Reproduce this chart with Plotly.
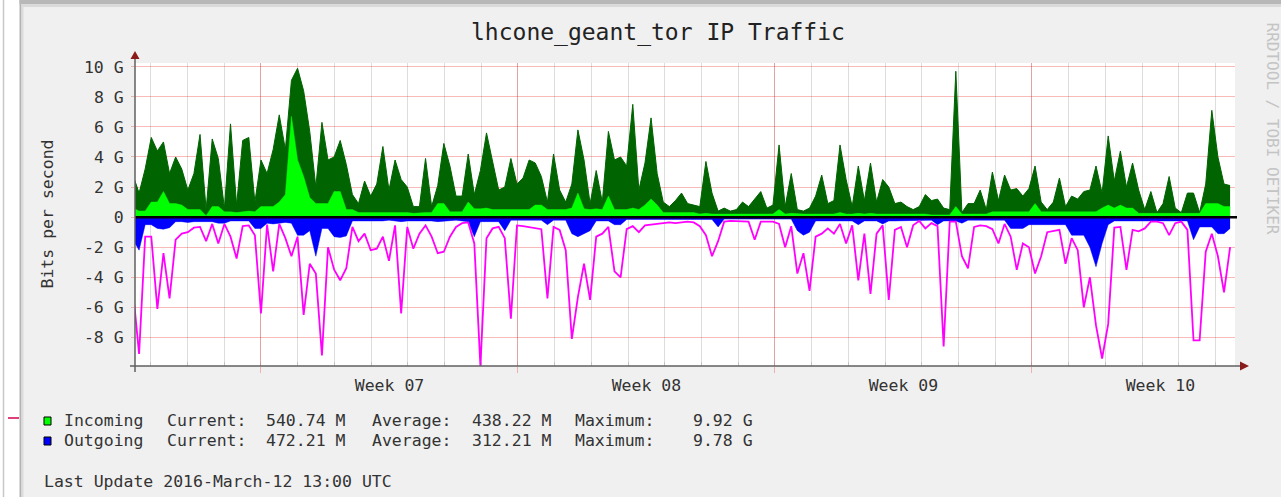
import numpy as np
import plotly.graph_objects as go

# ---------------- data (Gbit/s), ~4-hour samples ----------------
START_DAY = -3.487      # days relative to Mon 2016-02-15 00:00 UTC (start of Week 07)
STEP_DAY = 0.16603

incoming_max = [
    2.8, 1.6, 3.2, 5.3, 4.4, 5.0, 2.9, 4.0, 3.2, 1.8,
    2.9, 5.5, 0.5, 5.2, 3.9, 0.6, 6.2, 0.8, 5.1, 5.3,
    1.0, 3.8, 2.9, 4.5, 6.8, 4.5, 9.1, 9.9, 8.4, 5.7,
    2.0, 6.3, 3.8, 4.0, 5.1, 3.5, 1.5, 0.9, 2.4, 1.4,
    2.2, 4.7, 1.8, 3.8, 2.5, 2.0, 0.7, 0.7, 3.9, 0.7,
    2.1, 4.9, 3.4, 1.4, 1.4, 4.2, 1.5, 3.1, 5.6, 3.8,
    1.8, 2.0, 3.9, 2.2, 2.6, 3.8, 3.6, 2.7, 1.0, 4.2,
    1.8, 1.0, 2.2, 5.8, 3.8, 0.9, 3.1, 1.0, 5.7, 3.8,
    4.0, 3.4, 7.5, 1.8, 3.6, 6.6, 2.9, 1.0, 0.7, 1.1,
    1.6, 0.9, 0.8, 0.7, 3.7, 1.6, 0.4, 0.6, 0.4, 0.5,
    1.0, 0.7, 1.2, 1.7, 0.6, 0.8, 4.8, 0.7, 2.9, 0.5,
    0.4, 0.6, 1.4, 2.8, 0.9, 1.1, 4.8, 2.5, 0.7, 3.4,
    1.1, 3.6, 1.0, 2.5, 2.0, 0.9, 1.0, 0.7, 0.5, 0.7,
    1.5, 1.1, 1.2, 0.6, 0.5, 9.7, 0.3, 0.9, 0.9, 1.8,
    0.5, 3.0, 1.1, 2.8, 1.8, 1.9, 1.4, 1.9, 3.4, 1.0,
    0.5, 1.0, 2.6, 0.7, 1.4, 1.2, 1.7, 1.8, 3.4, 1.6,
    5.4, 2.4, 4.4, 2.0, 3.6, 1.8, 0.5, 1.7, 0.3, 0.9,
    2.7, 0.6, 0.3, 1.6, 1.6, 0.3, 2.2, 7.1, 4.0, 2.2, 2.1,
]

incoming_avg = [
    0.6, 0.4, 0.4, 1.0, 1.0, 1.7, 0.9, 0.9, 0.8, 0.5,
    0.5, 0.5, 0.1, 0.7, 0.7, 0.35, 0.35, 0.3, 0.35, 0.4,
    0.35, 0.7, 0.7, 0.7, 1.0, 1.5, 6.7, 3.8, 2.7, 1.3,
    0.9, 0.9, 0.9, 1.7, 1.7, 0.5, 0.5, 0.3, 0.3, 0.3,
    0.3, 0.35, 0.3, 0.3, 0.3, 0.3, 0.25, 0.3, 0.3, 0.3,
    0.9, 0.9, 0.35, 0.35, 0.35, 1.0, 0.55, 0.55, 0.6, 0.5,
    0.5, 0.5, 0.5, 0.5, 0.5, 0.5, 0.8, 0.8, 0.5, 0.5,
    0.5, 0.5, 0.6, 1.6, 0.55, 0.5, 0.55, 0.5, 1.4, 0.5,
    0.5, 0.5, 0.6, 0.5, 0.8, 1.2, 0.8, 0.3, 0.3, 0.3,
    0.3, 0.3, 0.3, 0.2, 0.25, 0.2, 0.2, 0.2, 0.2, 0.2,
    0.2, 0.2, 0.2, 0.25, 0.2, 0.2, 0.5, 0.2, 0.25, 0.2,
    0.2, 0.2, 0.2, 0.25, 0.2, 0.2, 0.3, 0.2, 0.2, 0.25,
    0.2, 0.25, 0.2, 0.2, 0.2, 0.2, 0.2, 0.2, 0.2, 0.2,
    0.2, 0.15, 0.15, 0.15, 0.15, 0.7, 0.2, 0.2, 0.2, 0.2,
    0.2, 0.35, 0.35, 0.35, 0.35, 0.35, 0.35, 0.35, 0.9, 0.35,
    0.35, 0.35, 0.35, 0.35, 0.35, 0.35, 0.35, 0.35, 0.35, 0.6,
    0.8, 0.6, 0.8, 0.6, 0.6, 0.25, 0.25, 0.25, 0.25, 0.25,
    0.25, 0.25, 0.25, 0.25, 0.25, 0.25, 0.9, 0.9, 0.9, 0.7, 0.7,
]

outgoing_avg = [
    -1.5, -2.2, -0.5, -0.5, -0.75, -0.8, -0.7, -0.3, -0.3, -0.35,
    -0.3, -0.3, -0.25, -0.3, -0.4, -0.4, -0.25, -0.25, -0.2, -0.25,
    -0.75, -0.75, -0.4, -0.45, -0.4, -0.35, -0.4, -1.2, -1.2, -0.9,
    -2.6, -0.75, -0.75, -1.3, -1.35, -1.25, -0.25, -0.25, -0.25, -0.3,
    -0.25, -0.25, -0.2, -0.25, -0.3, -0.25, -0.25, -0.2, -0.25, -0.25,
    -0.3, -0.25, -0.25, -0.2, -0.25, -0.3, -1.3, -0.3, -0.3, -0.3,
    -0.3, -0.9, -0.2, -0.2, -0.2, -0.2, -0.2, -0.2, -0.5, -0.2,
    -0.2, -0.2, -1.1, -1.3, -1.1, -0.9, -0.25, -0.25, -0.25, -0.5,
    -0.5, -0.15, -0.15, -0.15, -0.15, -0.15, -0.15, -0.15, -0.15, -0.15,
    -0.15, -0.15, -0.15, -0.15, -0.15, -0.15, -0.65, -0.13, -0.13, -0.13,
    -0.13, -0.13, -0.13, -0.13, -0.13, -0.13, -0.13, -0.13, -0.13, -0.9,
    -1.2, -1.0, -0.25, -0.25, -0.25, -0.25, -0.25, -0.25, -0.25, -0.5,
    -0.25, -0.25, -0.25, -0.45, -0.25, -0.25, -0.25, -0.25, -0.25, -0.25,
    -0.25, -0.2, -0.5, -0.25, -0.25, -0.25, -0.4, -0.2, -0.2, -0.2,
    -0.2, -0.2, -0.2, -0.2, -0.75, -0.75, -0.75, -0.5, -0.5, -0.5,
    -0.5, -0.5, -0.5, -0.5, -1.2, -1.2, -1.2, -2.0, -3.3, -1.75,
    -0.5, -0.25, -0.25, -0.25, -0.25, -0.25, -0.25, -0.25, -0.25, -0.25,
    -0.25, -0.25, -0.25, -0.25, -1.5, -0.65, -0.65, -0.65, -1.1, -1.1, -0.75,
]

outgoing_max = [
    -4.9, -9.1, -1.3, -1.3, -6.1, -2.4, -5.4, -1.5, -1.1, -1.0,
    -0.7, -0.65, -1.6, -0.45, -1.75, -0.45, -1.3, -2.75, -0.6, -0.55,
    -1.2, -6.4, -0.5, -3.6, -0.45, -1.4, -2.6, -1.3, -6.5, -3.1,
    -3.75, -9.2, -2.0, -3.5, -4.2, -3.4, -0.65, -1.6, -1.1, -2.2,
    -2.1, -1.3, -2.9, -0.55, -6.4, -0.65, -2.1, -1.1, -0.55, -1.3,
    -2.4, -2.3, -1.3, -0.65, -0.4, -0.35, -1.75, -9.9, -1.4, -0.75,
    -0.65, -1.4, -6.75, -0.55, -0.6, -0.65, -0.75, -0.8, -5.4, -0.65,
    -0.85, -2.2, -8.1, -5.3, -3.1, -5.5, -1.3, -1.1, -0.65, -3.6,
    -4.0, -0.8, -0.6, -1.0, -0.55, -0.5, -0.5, -0.4, -0.35, -0.4,
    -0.35, -0.3, -0.35, -0.6, -1.2, -2.6, -1.6, -0.3, -0.25, -0.25,
    -0.25, -0.3, -1.5, -0.3, -0.3, -0.3, -0.45, -2.0, -0.6, -3.75,
    -2.4, -4.9, -1.3, -1.1, -0.75, -1.1, -0.45, -1.75, -0.55, -4.2,
    -1.1, -5.1, -1.1, -0.55, -5.5, -0.85, -0.65, -2.0, -0.55, -0.25,
    -0.75, -0.4, -0.6, -8.6, -0.3, -0.3, -2.6, -3.4, -0.65, -0.55,
    -0.6, -0.8, -1.75, -0.45, -1.3, -3.5, -1.75, -2.0, -3.75, -2.6,
    -1.0, -0.9, -0.85, -3.1, -1.4, -2.2, -6.0, -4.0, -7.2, -9.4,
    -7.1, -0.7, -0.65, -3.5, -0.85, -0.95, -0.75, -0.3, -0.3, -0.4,
    -1.2, -0.4, -0.3, -0.85, -8.2, -8.2, -2.3, -1.1, -2.6, -5.0, -2.0,
]

week_centers = [3.5, 10.5, 17.5, 24.5]
week_labels = ["Week 07", "Week 08", "Week 09", "Week 10"]
y_ticks = [-8, -6, -4, -2, 0, 2, 4, 6, 8, 10]
y_tick_labels = ["-8 G", "-6 G", "-4 G", "-2 G", "0", "2 G", "4 G", "6 G", "8 G", "10 G"]

series_names = ["Incoming", "Outgoing"]
current_vals = ["540.74 M", "472.21 M"]
average_vals = ["438.22 M", "312.21 M"]
maximum_vals = ["9.92 G", "9.78 G"]
last_update = "Last Update 2016-March-12 13:00 UTC"
title_text = "lhcone_geant_tor IP Traffic"
side_text = "RRDTOOL / TOBI OETIKER"

X_RANGE = [-3.432, 26.532]
Y_RANGE = [-9.9, 10.25]

# ---------------- layout geometry ----------------
W, H = 1281, 497
L, R, T, B = 135, 46, 63, 131
PW = W - L - R
PH = H - T - B


def px(x):
    return (x - L) / PW


def py(y):
    return 1 - (y - T) / PH


x = START_DAY + np.arange(len(incoming_max)) * STEP_DAY

FONT = "DejaVu Sans Mono"
TXT = "#333333"
MGRID = "rgba(235,40,40,0.32)"
GRID = "rgba(120,120,120,0.25)"

fig = go.Figure()
fig.add_trace(go.Scatter(x=x, y=incoming_max, mode="lines", fill="tozeroy",
                         line=dict(color="#006400", width=1), fillcolor="#006400",
                         name="Incoming max"))
fig.add_trace(go.Scatter(x=x, y=incoming_avg, mode="lines", fill="tozeroy",
                         line=dict(color="#00ff00", width=0.5), fillcolor="#00ff00",
                         name="Incoming"))
fig.add_trace(go.Scatter(x=x, y=outgoing_avg, mode="lines", fill="tozeroy",
                         line=dict(color="#0000ff", width=0.5), fillcolor="#0000ff",
                         name="Outgoing"))
fig.add_trace(go.Scatter(x=x, y=outgoing_max, mode="lines", xaxis="x2",
                         line=dict(color="#ff00ff", width=1.8),
                         name="Outgoing max"))

shapes = []
# page borders
shapes.append(dict(type="rect", xref="paper", yref="paper", x0=px(0), x1=px(20),
                   y0=py(497), y1=py(0), fillcolor="#ffffff", line=dict(width=0), layer="below"))
shapes.append(dict(type="line", xref="paper", yref="paper", x0=px(3.5), x1=px(3.5),
                   y0=py(497), y1=py(0), line=dict(color="#c8c8c8", width=1.5)))
shapes.append(dict(type="line", xref="paper", yref="paper", x0=px(20.5), x1=px(20.5),
                   y0=py(497), y1=py(0), line=dict(color="#b4b4b4", width=2)))
shapes.append(dict(type="line", xref="paper", yref="paper", x0=px(22.5), x1=px(22.5),
                   y0=py(497), y1=py(4), line=dict(color="#dcdcdc", width=2)))
shapes.append(dict(type="rect", xref="paper", yref="paper", x0=px(19.5), x1=px(1281),
                   y0=py(4), y1=py(0), fillcolor="#b8b8b8", line=dict(width=0)))
shapes.append(dict(type="rect", xref="paper", yref="paper", x0=px(21.5), x1=px(1281),
                   y0=py(7), y1=py(4), fillcolor="#dadada", line=dict(width=0)))
shapes.append(dict(type="line", xref="paper", yref="paper", x0=px(8), x1=px(19),
                   y0=py(418), y1=py(418), line=dict(color="#e0407a", width=2)))
# zero line
shapes.append(dict(type="line", xref="paper", yref="y", x0=px(135), x1=px(1237),
                   y0=0, y1=0, line=dict(color="#000000", width=2.5), layer="above"))
# axis lines
shapes.append(dict(type="line", xref="paper", yref="paper", x0=px(135), x1=px(135),
                   y0=py(372), y1=py(57), line=dict(color="#606060", width=1.5), layer="above"))
shapes.append(dict(type="line", xref="paper", yref="paper", x0=px(130), x1=px(1242),
                   y0=py(366), y1=py(366), line=dict(color="#606060", width=1.5), layer="above"))
# arrows
shapes.append(dict(type="path", xref="paper", yref="paper",
                   path=f"M {px(135)} {py(51)} L {px(139.5)} {py(59)} L {px(130.5)} {py(59)} Z",
                   fillcolor="#8b1a1a", line=dict(width=0), layer="above"))
shapes.append(dict(type="path", xref="paper", yref="paper",
                   path=f"M {px(1249)} {py(366)} L {px(1240)} {py(361.5)} L {px(1240)} {py(370.5)} Z",
                   fillcolor="#8b1a1a", line=dict(width=0), layer="above"))
# legend colour boxes
shapes.append(dict(type="rect", xref="paper", yref="paper", x0=px(44), x1=px(51),
                   y0=py(425), y1=py(417), fillcolor="#00ff00", line=dict(color="#000", width=1)))
shapes.append(dict(type="rect", xref="paper", yref="paper", x0=px(44), x1=px(51),
                   y0=py(445), y1=py(437), fillcolor="#0000ff", line=dict(color="#000", width=1)))

ann = []


def text(x0, y0, s, size=16.5, anchor="left", color=TXT, angle=0):
    ann.append(dict(x=px(x0), y=py(y0), xref="paper", yref="paper", text=s,
                    showarrow=False, xanchor=anchor, yanchor="middle", textangle=angle,
                    font=dict(family=FONT, size=size, color=color)))


text(657.5, 33, title_text, size=23, anchor="center", color="#222222")
text(47.5, 214, "Bits per second", anchor="center", angle=-90)
text(1272.5, 128, side_text, size=16, anchor="center", color="#c4c4c4", angle=90)
rows_y = [420, 440]
for k in range(2):
    yy = rows_y[k]
    text(62, yy, series_names[k])
    text(165, yy, "Current:")
    text(264, yy, current_vals[k])
    text(370, yy, "Average:")
    text(470, yy, average_vals[k])
    text(573, yy, "Maximum:")
    text(755, yy, maximum_vals[k], anchor="right")
text(42, 481, last_update)

fig.update_layout(
    width=W, height=H,
    margin=dict(l=L, r=R, t=T, b=B, pad=0, autoexpand=False),
    paper_bgcolor="#f0f0f0", plot_bgcolor="#ffffff",
    showlegend=False, hovermode=False,
    shapes=shapes, annotations=ann,
    xaxis=dict(range=X_RANGE, tick0=0, dtick=7, showgrid=True, gridcolor=MGRID, gridwidth=1,
               showticklabels=False, ticks="outside", ticklen=6, tickcolor=MGRID,
               minor=dict(dtick=1, tick0=0, showgrid=True, gridcolor=GRID, gridwidth=1,
                          ticks="inside", ticklen=4, tickcolor=GRID),
               zeroline=False, showline=False, fixedrange=True),
    xaxis2=dict(range=X_RANGE, overlaying="x", anchor="y", side="bottom",
                tickmode="array", tickvals=week_centers, ticktext=week_labels,
                showgrid=False, zeroline=False, showline=False, ticks="",
                tickfont=dict(family=FONT, size=16.5, color=TXT),
                ticklabelstandoff=7, fixedrange=True),
    yaxis=dict(range=Y_RANGE, tickmode="array", tickvals=y_ticks, ticktext=y_tick_labels,
               showgrid=True, gridcolor=MGRID, gridwidth=1, zeroline=False, showline=False,
               ticks="outside", ticklen=3, tickcolor=MGRID,
               tickfont=dict(family=FONT, size=16.5, color=TXT),
               ticklabelstandoff=4, automargin=False, fixedrange=True),
)

fig.write_html("out.html", config={"displayModeBar": False},
               post_script="document.body.style.margin='0';document.body.style.overflow='hidden';")
